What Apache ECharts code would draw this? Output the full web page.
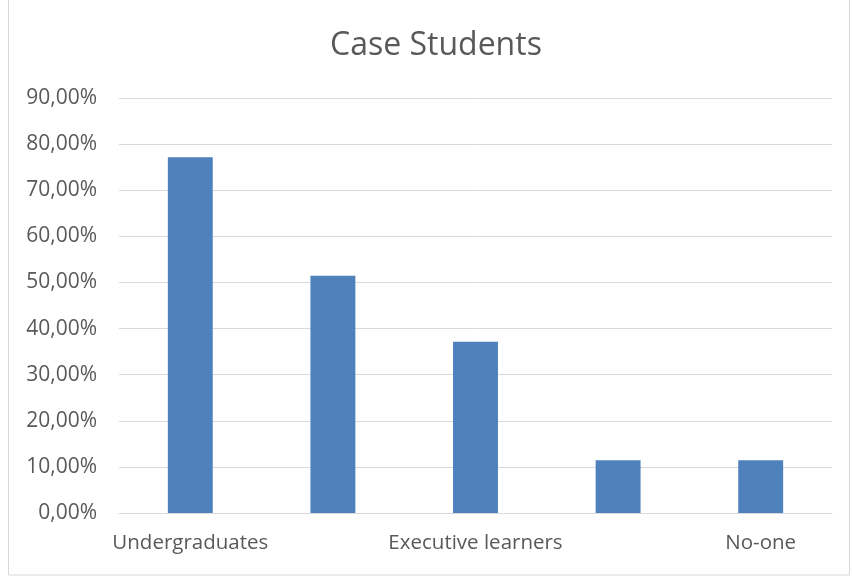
<!DOCTYPE html>
<html>
<head>
<meta charset="utf-8">
<script src="https://cdn.jsdelivr.net/npm/echarts@6/dist/echarts.min.js"></script>
<style>
html,body{margin:0;padding:0;background:#fff;}
#chart{width:852px;height:579px;}
</style>
</head>
<body>
<div id="chart"></div>
<script>
const categories = ["Undergraduates", "Postgraduates", "Executive learners", "Other", "No-one"];
const values = [77.14, 51.43, 37.14, 11.43, 11.43];
const yTicks = [0, 10, 20, 30, 40, 50, 60, 70, 80, 90];

const chart = echarts.init(document.getElementById('chart'), null, {renderer: 'canvas'});
const textColor = '#595959';
const font = '"Open Sans", "Liberation Sans", sans-serif';
chart.setOption({
  animation: false,
  backgroundColor: '#fff',
  title: {
    text: 'Case Students',
    left: 325,
    top: 25,
    textStyle: {fontFamily: font, fontSize: 32, fontWeight: 'normal', color: textColor}
  },
  graphic: [{
    type: 'rect',
    shape: {x: 8.5, y: -2, width: 841, height: 577},
    style: {fill: 'none', stroke: '#d9d9d9', lineWidth: 1},
    silent: true
  }],
  grid: {left: 119, right: 20, top: 98, bottom: 66},
  xAxis: {
    type: 'category',
    data: categories,
    axisTick: {show: false},
    axisLine: {lineStyle: {color: '#d9d9d9', width: 1}},
    axisLabel: {interval: 1, color: textColor, fontFamily: font, fontSize: 20.5, margin: 20}
  },
  yAxis: {
    type: 'value',
    min: yTicks[0],
    max: yTicks[yTicks.length - 1],
    interval: 10,
    axisLine: {show: false},
    axisTick: {show: false},
    splitLine: {lineStyle: {color: '#d9d9d9', width: 1}},
    axisLabel: {
      color: textColor, fontFamily: font, fontSize: 21, margin: 22,
      formatter: v => v.toFixed(2).replace('.', ',') + '%'
    }
  },
  series: [{
    type: 'bar',
    data: values,
    barWidth: '31.5%',
    itemStyle: {color: '#4f81bd'}
  }]
});
</script>
</body>
</html>
